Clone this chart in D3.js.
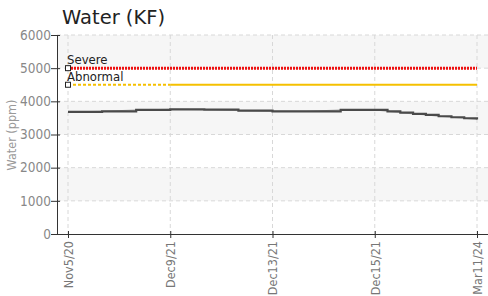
<!DOCTYPE html>
<html>
<head>
    <script src="https://d3js.org/d3.v7.min.js"></script>
    <style>
        body { margin: 0; background: #fff; }
        .lbl { font-family: "DejaVu Sans Condensed", "DejaVu Sans", sans-serif; font-stretch: condensed; }
    </style>
</head>
<body>
    <svg id="chart" width="488" height="296"></svg>

    <script>
        // x positions are sample indices; labels only on some of them
        var samplePos = [0, 8, 16, 24, 32, 40, 48, 56, 64, 72, 75, 78, 81, 84, 87, 90, 93, 96];
        var water = [3680, 3700, 3740, 3760, 3750, 3720, 3700, 3700, 3740, 3740, 3700, 3660, 3620, 3590, 3550, 3520, 3490, 3450];
        var tickPos = [0, 24, 48, 72, 96];
        var tickLabels = ["Nov5/20", "Dec9/21", "Dec13/21", "Dec15/21", "Mar11/24"];
        var yTicks = [0, 1000, 2000, 3000, 4000, 5000, 6000];
        var limits = [{name: "Severe", value: 5000}, {name: "Abnormal", value: 4500}];

        var svg = d3.select("#chart");
        var xScale = d3.scaleLinear().domain([0, 96]).range([68, 477]);
        var yScale = d3.scaleLinear().domain([0, 6000]).range([234, 35]);
        var left = 57, right = 488;

        // bands
        svg.selectAll(".band").data([1000, 3000, 5000]).enter().append("rect")
            .attr("x", left).attr("width", right - left)
            .attr("y", d => yScale(d + 1000)).attr("height", d => yScale(d) - yScale(d + 1000))
            .attr("fill", "#f6f6f6");

        // grid
        svg.selectAll(".hgrid").data(yTicks.slice(1)).enter().append("line")
            .attr("x1", left).attr("x2", right).attr("y1", d => yScale(d)).attr("y2", d => yScale(d))
            .attr("stroke", "#d8d8d8").attr("stroke-dasharray", "4,3");
        svg.selectAll(".vgrid").data(tickPos).enter().append("line")
            .attr("x1", d => xScale(d)).attr("x2", d => xScale(d)).attr("y1", 35).attr("y2", 234)
            .attr("stroke", "#d8d8d8").attr("stroke-dasharray", "4,3");

        // axes
        var yAxis = svg.append("g").attr("transform", `translate(${left},0)`)
            .call(d3.axisLeft(yScale).tickValues(yTicks).tickSize(6).tickSizeOuter(0).tickFormat(d3.format("d")));
        yAxis.select(".domain").attr("stroke", "#333");
        yAxis.selectAll(".tick line").attr("stroke", "#333").attr("x1", 3);
        yAxis.selectAll("text").attr("class", "lbl").attr("fill", "#888").style("font-size", "13.5px").attr("x", -6);

        var xAxis = svg.append("g").attr("transform", "translate(0,234)")
            .call(d3.axisBottom(xScale).tickValues(tickPos).tickSize(4).tickSizeOuter(0).tickFormat((d, i) => tickLabels[i]));
        xAxis.select(".domain").attr("stroke", "#333").attr("d", `M${left},0.5H${right}`);
        xAxis.selectAll(".tick line").attr("stroke", "#333").attr("y1", -3);
        xAxis.selectAll("text").attr("class", "lbl").attr("fill", "#777").style("font-size", "12.5px")
            .attr("y", 0).attr("dy", "0.35em").attr("transform", "rotate(-90)").attr("x", -7)
            .style("text-anchor", "end");

        svg.append("text").attr("class", "lbl").attr("text-anchor", "middle")
            .attr("transform", "translate(16,135)rotate(-90)").attr("fill", "#999")
            .style("font-size", "12.5px").text("Water (ppm)");

        // title
        svg.append("text").attr("x", 62).attr("y", 24).attr("fill", "#222")
            .style("font-family", "DejaVu Sans, sans-serif").style("font-size", "19.5px").text("Water (KF)");

        // limit lines
        var x0 = xScale(0), x1 = xScale(96), xs = xScale(24);
        svg.append("line").attr("x1", x0).attr("x2", x1).attr("y1", yScale(5000)).attr("y2", yScale(5000))
            .attr("stroke", "#ee1111").attr("stroke-width", 3).attr("stroke-dasharray", "2,1");
        svg.append("line").attr("x1", x0).attr("x2", xs).attr("y1", yScale(4500)).attr("y2", yScale(4500))
            .attr("stroke", "#f5c000").attr("stroke-width", 2).attr("stroke-dasharray", "3,2");
        svg.append("line").attr("x1", xs).attr("x2", x1).attr("y1", yScale(4500)).attr("y2", yScale(4500))
            .attr("stroke", "#f5c000").attr("stroke-width", 2);

        svg.selectAll(".mk").data(limits).enter().append("rect")
            .attr("x", x0 - 2.5).attr("y", d => yScale(d.value) - 2.5).attr("width", 5).attr("height", 5)
            .attr("fill", "#fff").attr("stroke", "#222");
        svg.selectAll(".lim").data(limits).enter().append("text").attr("class", "lbl")
            .attr("x", x0 - 1).attr("y", d => yScale(d.value) - 4).attr("fill", "#222")
            .style("font-size", "13px").text(d => d.name);

        // data
        var pts = samplePos.map((p, i) => [p, water[i]]);
        svg.append("path").datum(pts).attr("fill", "none").attr("stroke", "#aaa").attr("stroke-width", 1)
            .attr("d", d3.line().x(d => xScale(d[0])).y(d => yScale(d[1])));
        svg.append("path").datum(pts).attr("fill", "none").attr("stroke", "#4a4a4a").attr("stroke-width", 2.2)
            .attr("d", d3.line().curve(d3.curveStepAfter).x(d => xScale(d[0])).y(d => yScale(d[1])));
    </script>
</body>
</html>
